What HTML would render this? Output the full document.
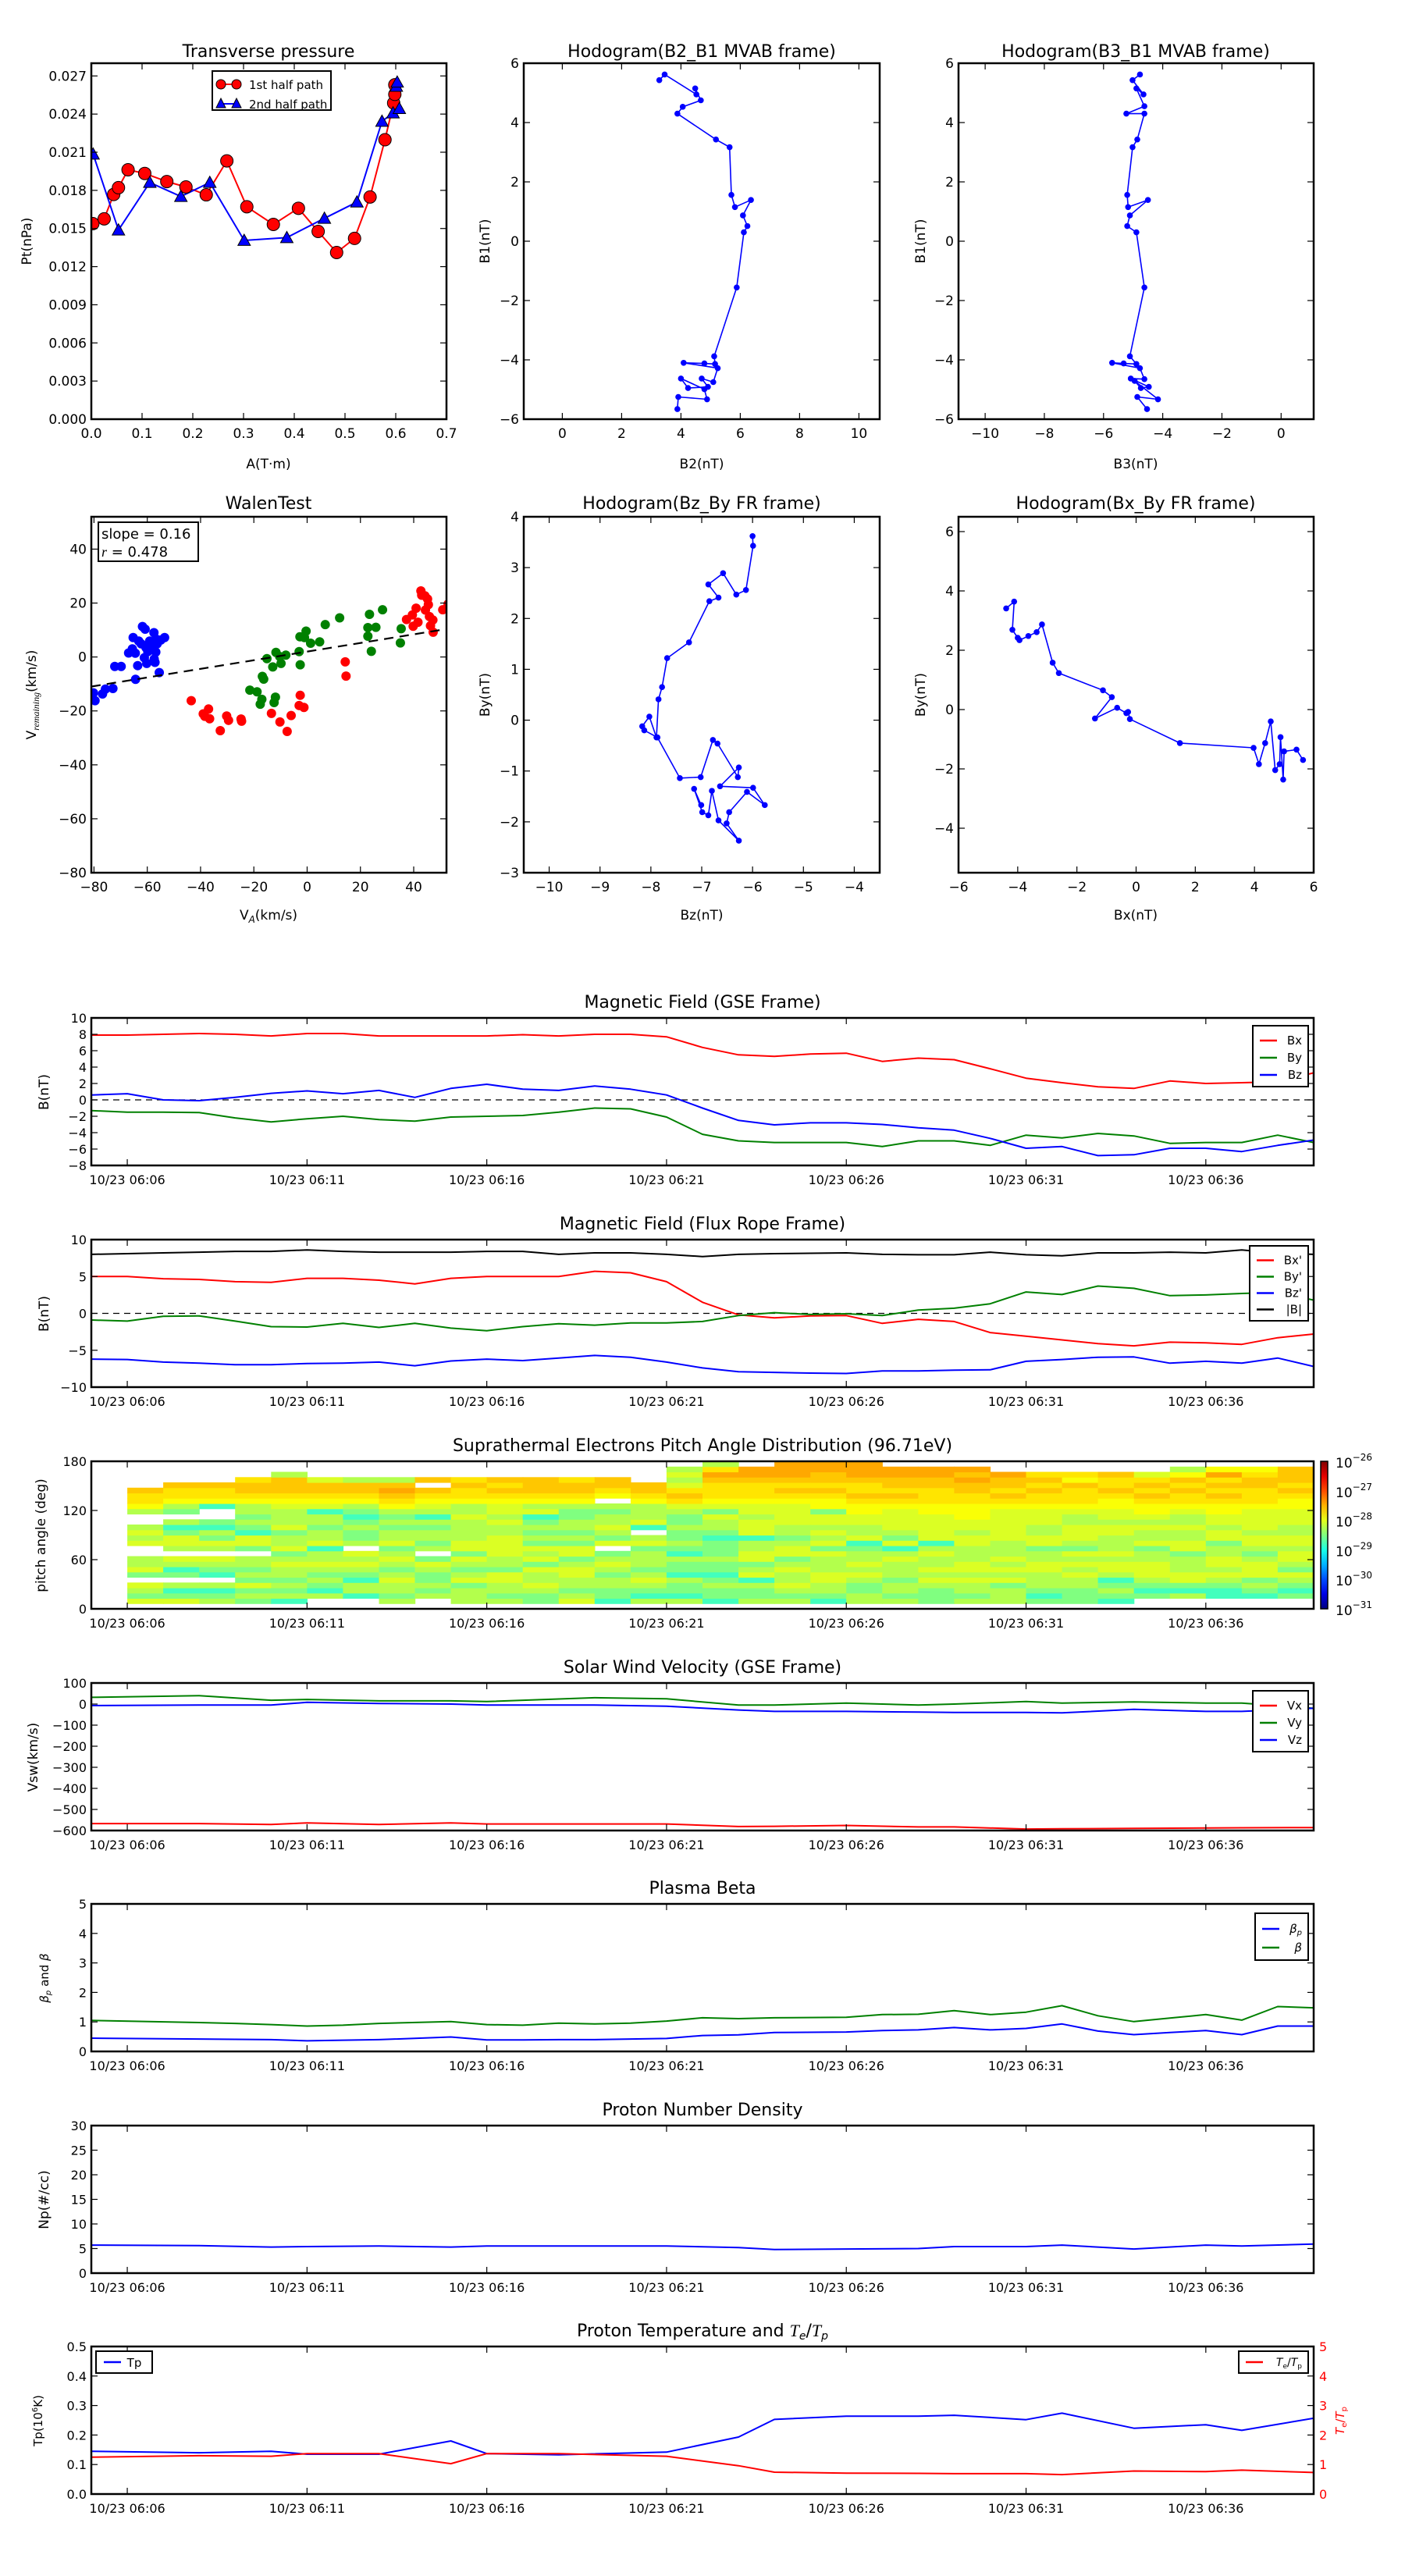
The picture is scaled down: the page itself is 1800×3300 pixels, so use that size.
<!DOCTYPE html>
<html><head><meta charset="utf-8">
<style>body{margin:0;background:#fff}svg{display:block;font-family:"DejaVu Sans","Liberation Sans",sans-serif}</style>
</head><body>
<svg id="fig" width="1800" height="3300" viewBox="0 0 1800 3300" xmlns="http://www.w3.org/2000/svg"></svg>
<script>
// ---------- Transverse pressure ----------
const tp1A=[0.003,0.0253,0.0441,0.0535,0.0724,0.1053,0.1488,0.1865,0.2265,0.2671,0.3065,0.3588,0.4082,0.4471,0.4835,0.5188,0.5494,0.5788,0.5959,0.5982,0.5982];
const tp1P=[0.01538,0.01576,0.01768,0.01821,0.01962,0.01933,0.01869,0.01827,0.01765,0.02032,0.01671,0.01532,0.01659,0.01477,0.01311,0.01422,0.01748,0.02198,0.02487,0.02555,0.0263];
const tp2A=[0.0035,0.0535,0.1153,0.1765,0.2335,0.3012,0.3853,0.4594,0.5235,0.5729,0.5947,0.6012,0.6029,0.6071];
const tp2P=[0.02085,0.01488,0.01862,0.01752,0.01862,0.01406,0.01428,0.0158,0.01708,0.02343,0.02409,0.02618,0.02651,0.02443];
// ---------- Hodogram B2_B1 / B3_B1 ----------
const hB2=[3.27,3.45,4.52,4.48,4.67,4.06,3.88,5.18,5.64,5.70,5.82,6.36,6.09,6.24,6.12,5.88,5.12,5.15,4.79,4.09,5.24,5.09,4.70,4.91,4.24,4.00,4.79,4.88,3.91,3.88];
const hB1=[5.43,5.62,4.95,5.15,4.75,4.53,4.30,3.43,3.17,1.56,1.15,1.39,0.87,0.51,0.30,-1.56,-3.88,-4.14,-4.12,-4.10,-4.28,-4.75,-4.63,-4.91,-4.95,-4.63,-4.99,-5.33,-5.25,-5.66];
const hB3=[-4.77,-5.02,-4.65,-4.89,-4.62,-5.23,-4.62,-4.86,-5.02,-5.20,-5.17,-4.50,-5.11,-5.20,-4.89,-4.62,-5.11,-4.89,-5.32,-5.71,-4.77,-4.62,-5.08,-4.47,-4.74,-4.95,-4.16,-4.86,-4.53];
const hB1b=[5.62,5.43,4.95,5.15,4.55,4.30,4.30,3.43,3.17,1.56,1.15,1.39,0.87,0.51,0.30,-1.56,-3.88,-4.14,-4.12,-4.10,-4.28,-4.65,-4.63,-4.91,-4.95,-4.71,-5.33,-5.25,-5.66];
// ---------- Walen test ----------
const wBlueX=[-80.2,-79.6,-76.8,-75.7,-72.9,-72.2,-69.8,-67.0,-65.6,-65.3,-64.5,-64.4,-63.6,-63.2,-62.3,-61.8,-61.1,-60.8,-60.5,-60.2,-59.8,-59.1,-58.2,-57.5,-57.4,-57.1,-56.8,-56.6,-56.3,-55.5,-54.9,-53.5];
const wBlueY=[-13.3,-16.2,-13.7,-11.9,-11.7,-3.5,-3.5,1.5,3.0,7.2,1.4,-8.3,-3.2,5.9,4.9,11.3,-0.3,10.3,3.5,-2.4,2.0,5.9,4.2,9.0,-0.8,-2.0,1.8,6.6,4.9,-5.8,6.3,7.2];
const wGreenX=[-21.5,-18.8,-17.6,-17.0,-16.8,-16.3,-15.1,-12.9,-12.4,-11.9,-11.7,-10.3,-9.8,-8.0,-3.0,-2.7,-2.6,-1.0,-0.4,1.3,4.7,6.8,12.2,22.8,22.8,23.4,24.1,25.8,28.3,35.0,35.3];
const wGreenY=[-12.3,-12.9,-17.5,-15.7,-7.2,-8.2,-0.6,-3.7,-16.9,-14.9,1.7,0.2,-2.4,0.7,2.0,7.5,-2.9,7.2,9.6,5.1,5.6,12.0,14.5,7.7,10.9,15.8,2.1,11.0,17.5,5.2,10.5];
const wRedX=[-43.5,-39.0,-38.4,-37.0,-36.6,-32.6,-30.2,-29.5,-24.8,-24.6,-13.4,-10.2,-7.5,-6.0,-3.0,-2.6,-1.2,14.3,14.6,37.3,39.5,39.8,40.9,41.6,42.7,43.0,44.2,44.4,45.2,45.5,45.9,46.3,47.2,47.3,50.9,52.9];
const wRedY=[-16.2,-21.1,-22.0,-19.3,-22.9,-27.3,-21.9,-23.5,-23.0,-23.8,-20.9,-24.1,-27.6,-21.7,-18.0,-14.2,-18.7,-1.8,-7.1,13.9,15.6,11.4,18.1,12.9,24.5,22.9,22.7,17.4,21.5,19.4,15.0,11.6,13.7,9.2,17.5,19.6];
const walenSlope=0.16, walenIntercept=2.0;
// ---------- Hodogram FR ----------
const fBz=[-6.00,-5.99,-6.13,-6.32,-6.58,-6.87,-6.67,-6.85,-7.25,-7.68,-7.78,-7.85,-7.89,-8.03,-8.17,-8.13,-7.87,-7.43,-7.02,-6.78,-6.69,-6.29,-6.27,-6.64,-5.99,-5.76,-6.11,-6.46,-6.51,-6.27,-6.67,-6.80,-6.87,-6.99,-7.15,-7.01];
const fBy=[3.62,3.43,2.56,2.47,2.89,2.67,2.41,2.34,1.53,1.22,0.65,0.41,-0.34,0.07,-0.12,-0.20,-0.34,-1.14,-1.12,-0.39,-0.46,-1.12,-0.93,-1.30,-1.33,-1.67,-1.41,-1.81,-2.03,-2.37,-1.97,-1.39,-1.87,-1.81,-1.35,-1.67];
const gBx=[-4.39,-4.12,-4.18,-4.00,-3.94,-3.64,-3.36,-3.18,-2.82,-2.61,-1.12,-0.82,-1.39,-0.64,-0.33,-0.27,-0.21,1.48,3.97,4.15,4.36,4.55,4.70,4.85,4.88,4.97,5.00,5.42,5.64];
const gBy=[3.41,3.64,2.69,2.42,2.34,2.48,2.61,2.87,1.58,1.23,0.65,0.42,-0.30,0.06,-0.12,-0.08,-0.32,-1.13,-1.29,-1.84,-1.13,-0.40,-2.04,-1.84,-0.93,-2.36,-1.41,-1.35,-1.70];
// ---------- Time series (minutes after 06:05) ----------
const timeTickLabels=['10/23 06:06','10/23 06:11','10/23 06:16','10/23 06:21','10/23 06:26','10/23 06:31','10/23 06:36'];
const bT=[0,1,2,3,4,5,6,7,8,9,10,11,12,13,14,15,16,17,18,19,20,21,22,23,24,25,26,27,28,29,30,31,32,33,34];
const gseBx=[7.9,7.9,8.0,8.1,8.0,7.8,8.1,8.1,7.8,7.8,7.8,7.8,7.95,7.8,8.0,8.0,7.7,6.4,5.5,5.3,5.6,5.7,4.7,5.1,4.9,3.8,2.65,2.1,1.6,1.4,2.3,2.0,2.1,2.2,3.3];
const gseBy=[-1.3,-1.5,-1.5,-1.55,-2.2,-2.7,-2.3,-2.0,-2.4,-2.6,-2.1,-2.0,-1.9,-1.5,-1.0,-1.1,-2.1,-4.2,-5.0,-5.2,-5.2,-5.2,-5.7,-5.0,-5.0,-5.55,-4.3,-4.65,-4.1,-4.4,-5.3,-5.2,-5.2,-4.3,-5.2];
const gseBz=[0.6,0.75,0,-0.1,0.3,0.8,1.1,0.75,1.15,0.3,1.4,1.9,1.3,1.15,1.7,1.3,0.6,-1.0,-2.5,-3.05,-2.8,-2.8,-3.0,-3.4,-3.7,-4.7,-5.9,-5.7,-6.8,-6.7,-5.9,-5.9,-6.3,-5.55,-4.9];
const frBx=[5.0,5.0,4.7,4.6,4.3,4.2,4.75,4.75,4.5,4.0,4.75,5.0,5.0,5.0,5.7,5.5,4.3,1.5,-0.2,-0.6,-0.35,-0.3,-1.35,-0.8,-1.1,-2.6,-3.1,-3.6,-4.1,-4.4,-3.9,-4.0,-4.2,-3.3,-2.8];
const frBy=[-0.9,-1.05,-0.4,-0.35,-1.05,-1.8,-1.85,-1.35,-1.9,-1.35,-2.0,-2.35,-1.8,-1.4,-1.6,-1.3,-1.3,-1.1,-0.3,0.1,-0.15,-0.05,-0.3,0.45,0.7,1.3,2.9,2.55,3.7,3.4,2.4,2.5,2.7,2.85,1.8];
const frBz=[-6.2,-6.25,-6.6,-6.75,-6.95,-6.95,-6.8,-6.75,-6.6,-7.1,-6.45,-6.2,-6.4,-6.05,-5.7,-5.95,-6.6,-7.4,-7.9,-8.0,-8.1,-8.15,-7.8,-7.8,-7.7,-7.65,-6.5,-6.25,-5.95,-5.9,-6.75,-6.5,-6.75,-6.05,-7.2];
const frBt=[8.0,8.1,8.2,8.3,8.4,8.4,8.6,8.4,8.3,8.3,8.3,8.4,8.4,8.0,8.2,8.2,8.0,7.7,8.0,8.1,8.15,8.2,8.0,7.95,7.95,8.3,7.95,7.8,8.2,8.2,8.3,8.2,8.6,8.15,8.0];
const padColumns=[
".ygly.gyll..ylyl..lYooO.....",".ygcl.gcly.lyygcl.glYooO....",".lgcl.cgly.lyglcg..cYooO....",".glgyglgll.gyycglgllYoOOo...",
".clglgllylgyllgylllyYoOOOl..","..lcglglyllcyllgllcyYoOOy...","..cllcglyly.lgglgcglYoOOl...",".lgllylglylgyllglglYoOrOl...",
"..lglgglyg.lgllglclyYoO.O...",".lllgylglygyyllllyllYooOo...",".lgllyygllyyyyllylyyYoOoO...",".gglyllygylyglglgcylYoOOO...",
".ylgllyylgyyglgllgglYoOOo...",".cggllglylg.yglyllgl.YoOO...",".lcglylglllgyl.cylllYoOO....",".lcgglcgglcglgglgglyoOoylyl.",
".cgglgcgglgggcgllygyYoooOrol",".lgglcylgyyllcyyylyyYoooOrr.",".lglyllylgyylgllyyyyYoOoOrrr",".cgllyylllygylylyygYYoOoOOrr",
".llgglylyllgcyllyyYYoOooOrrr",".lgllglllylcyglyyyyYoOoOOrr.",".ggglylyllylcyyyyyYYoooOOrr.",".lgllylyylllyylyyYYYooOOrOr.",
".lllgylylylllyyyyyyYoOoOOr..",".gcglllyyllgyyllyyyYooOoOo..",".gggllylylyglyyyllyYoooOYo..",".cglgclyylylllyylyyYYoOooO..",
"..gcglyyyllgyllylyYYoOoOoy..","..lcgyylllgyyllyllyYooOoOYl.","..ccglylyyllgyylyyYYoOoOorY.","..cglgyyylglyylyyyyYoooOOoY.",
"..gcglyglyylyyllyyyYYoOoOOO."];
const padLevelKeys=['c','g','l','y','Y','o','O','r'];
const padLevelLog=[-28.8,-28.5,-28.25,-28.05,-27.9,-27.75,-27.6,-27.45];
const vT=[0,3,5,6,8,10,11,14,16,18,19,21,23,24,26,27,29,31,32,34];
const vX=[-567,-567,-571,-564,-571,-564,-569,-569,-569,-581,-580,-576,-583,-583,-593,-592,-590,-588,-587,-586];
const vY=[32,40,18,22,15,15,12,30,25,-5,-5,5,-5,0,12,5,10,5,5,-20];
const vZ=[-7,-5,-5,8,3,0,-5,-5,-10,-28,-35,-35,-38,-40,-40,-42,-25,-35,-35,-20];
const betaT=[0,3,4,5,6,7,8,10,11,12,13,14,15,16,17,18,19,21,22,23,24,25,26,27,28,29,30,31,32,33,34];
const betaP=[0.45,0.42,0.41,0.40,0.36,0.38,0.40,0.49,0.39,0.39,0.40,0.40,0.42,0.44,0.54,0.56,0.64,0.66,0.71,0.73,0.81,0.73,0.78,0.93,0.69,0.57,0.64,0.71,0.57,0.86,0.86];
const betaAll=[1.05,0.98,0.95,0.91,0.86,0.89,0.95,1.01,0.91,0.89,0.96,0.93,0.96,1.03,1.14,1.11,1.14,1.16,1.25,1.26,1.38,1.25,1.33,1.55,1.21,1.01,1.13,1.25,1.06,1.52,1.48];
const npT=[0,3,5,6,8,10,11,16,18,19,21,23,24,26,27,29,31,32,34];
const npV=[5.7,5.6,5.3,5.4,5.5,5.3,5.5,5.5,5.2,4.8,4.9,5.0,5.4,5.4,5.7,4.9,5.7,5.5,5.9];
const tempT=[0,3,5,6,8,10,11,13,16,18,19,21,23,24,26,27,29,31,32,34];
const tempTp=[0.145,0.14,0.145,0.135,0.135,0.18,0.137,0.133,0.142,0.193,0.253,0.264,0.264,0.267,0.252,0.274,0.223,0.235,0.216,0.257];
const tempRatio=[1.25,1.30,1.28,1.37,1.37,1.03,1.37,1.37,1.28,0.96,0.74,0.71,0.70,0.69,0.69,0.66,0.78,0.76,0.81,0.73];

// ---------- drawing ----------
const NS='http://www.w3.org/2000/svg';
const fig=document.getElementById('fig');
const MINUS='\u2212';
function mk(tag,attrs,parent,name){
  const e=document.createElementNS(NS,tag);
  for(const k in attrs)e.setAttribute(k,attrs[k]);
  
  
  (parent||fig).appendChild(e);return e;
}
function txt(x,y,s,size,anchor,parent,name,extra){
  const a=Object.assign({x:x,y:y,'font-size':size,'text-anchor':anchor||'middle',fill:'#000'},extra||{});
  const t=mk('text',a,parent,name);t.textContent=s;return t;
}
function fmt(v,d){let s=v.toFixed(d);if(v<0)s=MINUS+s.slice(1);return s;}
let clipN=0;
function axes(o){
  const g=mk('g',{},fig,o.name);
  const sx=v=>o.x0+(v-o.xmin)/(o.xmax-o.xmin)*o.w;
  const sy=v=>o.y0+o.h-(v-o.ymin)/(o.ymax-o.ymin)*o.h;
  const id='clip'+(clipN++);
  const cp=mk('clipPath',{id:id},g,'clip-region');
  mk('rect',{x:o.x0,y:o.y0,width:o.w,height:o.h},cp,'clip-rect');
  const data=mk('g',{'clip-path':'url(#'+id+')'},g,'plot-marks');
  return {g:g,data:data,sx:sx,sy:sy,o:o};
}
function finish(a){
  const o=a.o,g=a.g,T=8;
  const tg=mk('g',{stroke:'#000','stroke-width':1.2},g,'ticks');
  o.xticks.forEach((v,i)=>{const x=a.sx(v);
    mk('line',{x1:x,x2:x,y1:o.y0+o.h,y2:o.y0+o.h-T},tg,'x-tick');
    mk('line',{x1:x,x2:x,y1:o.y0,y2:o.y0+T},tg,'x-tick-top');
    txt(x,o.y0+o.h+24,o.xlabels[i],o.tickSize||17,'middle',g,'x-tick-label');});
  o.yticks.forEach((v,i)=>{const y=a.sy(v);
    mk('line',{x1:o.x0,x2:o.x0+T,y1:y,y2:y},tg,'y-tick');
    if(!o.noRightTicks)mk('line',{x1:o.x0+o.w,x2:o.x0+o.w-T,y1:y,y2:y},tg,'y-tick-right');
    txt(o.x0-6,y+6,o.ylabels[i],o.tickSize||17,'end',g,'y-tick-label');});
  mk('rect',{x:o.x0,y:o.y0,width:o.w,height:o.h,fill:'none',stroke:'#000','stroke-width':2.5},g,'axes-frame');
}
function line(a,xs,ys,color,name,w){
  const pts=xs.map((x,i)=>a.sx(x).toFixed(1)+','+a.sy(ys[i]).toFixed(1)).join(' ');
  return mk('polyline',{points:pts,fill:'none',stroke:color,'stroke-width':w||2,'stroke-linejoin':'round'},a.data,name);
}
function dots(a,xs,ys,color,r,name,stroke){
  const g=mk('g',{fill:color,stroke:stroke||'none','stroke-width':1},a.data,name);
  xs.forEach((x,i)=>mk('circle',{cx:a.sx(x),cy:a.sy(ys[i]),r:r},g,'point'));
}
function tris(a,xs,ys,color,s,name){
  const g=mk('g',{fill:color,stroke:'#000','stroke-width':1},a.data,name);
  xs.forEach((x,i)=>{const cx=a.sx(x),cy=a.sy(ys[i]);
    mk('polygon',{points:`${cx},${cy-s} ${cx-s},${cy+s*0.8} ${cx+s},${cy+s*0.8}`},g,'triangle');});
}
function rng(a,b,s){const r=[];for(let v=a;v<=b+1e-9;v+=s)r.push(+v.toFixed(6));return r;}
function ylab(x,y,s,name,size,color){
  const t=txt(x,y,'',size||17,'middle',fig,name,{transform:`rotate(-90 ${x} ${y})`,fill:color||'#000'});
  return t;
}
function tsp(t,s,extra,name){const e=mk('tspan',extra||{},t,name);e.textContent=s;return e;}

// ===== Row 1 =====
const R1={y0:81,h:456}, R2={y0:662,h:456};
const C=[{x0:117,w:455},{x0:671,w:456},{x0:1228,w:455}];

let a=axes({name:'transverse-pressure-panel',x0:C[0].x0,y0:R1.y0,w:C[0].w,h:R1.h,xmin:0,xmax:0.7,ymin:0,ymax:0.028,
 xticks:rng(0,0.7,0.1),xlabels:rng(0,0.7,0.1).map(v=>v.toFixed(1)),yticks:rng(0,0.027,0.003),ylabels:rng(0,0.027,0.003).map(v=>v.toFixed(3))});
line(a,tp1A,tp1P,'#ff0000','first-half-path-line');
line(a,tp2A,tp2P,'#0000ff','second-half-path-line');
dots(a,tp1A,tp1P,'#ff0000',8,'first-half-path-markers','#000');
tris(a,tp2A,tp2P,'#0000ff',8,'second-half-path-markers');
finish(a);
txt(344,73,'Transverse pressure',22,'middle',fig,'transverse-pressure-title');
txt(344,600,'A(T·m)',17,'middle',fig,'transverse-pressure-x-title');
ylab(40,309,'','transverse-pressure-y-title').textContent='Pt(nPa)';
{const lg=mk('g',{},fig,'transverse-pressure-legend');
 mk('rect',{x:272,y:91,width:152,height:50,fill:'#fff',stroke:'#000','stroke-width':2},lg,'legend-box');
 mk('line',{x1:283,x2:303,y1:108,y2:108,stroke:'#ff0000','stroke-width':2},lg,'legend-line');
 mk('circle',{cx:283,cy:108,r:6,fill:'#ff0000',stroke:'#000'},lg,'legend-marker');
 mk('circle',{cx:303,cy:108,r:6,fill:'#ff0000',stroke:'#000'},lg,'legend-marker');
 txt(319,114,'1st half path',15,'start',lg,'legend-entry-first-half');
 mk('line',{x1:283,x2:303,y1:133,y2:133,stroke:'#0000ff','stroke-width':2},lg,'legend-line');
 mk('polygon',{points:'283,126 277,138 289,138',fill:'#0000ff',stroke:'#000'},lg,'legend-marker');
 mk('polygon',{points:'303,126 297,138 309,138',fill:'#0000ff',stroke:'#000'},lg,'legend-marker');
 txt(319,139,'2nd half path',15,'start',lg,'legend-entry-second-half');}

a=axes({name:'hodogram-b2-b1-panel',x0:C[1].x0,y0:R1.y0,w:C[1].w,h:R1.h,xmin:-1.3,xmax:10.7,ymin:-6,ymax:6,
 xticks:rng(0,10,2),xlabels:rng(0,10,2).map(v=>fmt(v,0)),yticks:rng(-6,6,2),ylabels:rng(-6,6,2).map(v=>fmt(v,0))});
line(a,hB2,hB1,'#0000ff','hodogram-b2-b1-line',1.6);dots(a,hB2,hB1,'#0000ff',3.8,'hodogram-b2-b1-points');finish(a);
txt(899,73,'Hodogram(B2_B1 MVAB frame)',22,'middle',fig,'hodogram-b2-b1-title');
txt(899,600,'B2(nT)',17,'middle',fig,'hodogram-b2-b1-x-title');
ylab(627,309,'','hodogram-b2-b1-y-title').textContent='B1(nT)';

a=axes({name:'hodogram-b3-b1-panel',x0:C[2].x0,y0:R1.y0,w:C[2].w,h:R1.h,xmin:-10.9,xmax:1.1,ymin:-6,ymax:6,
 xticks:rng(-10,0,2),xlabels:rng(-10,0,2).map(v=>fmt(v,0)),yticks:rng(-6,6,2),ylabels:rng(-6,6,2).map(v=>fmt(v,0))});
line(a,hB3,hB1b,'#0000ff','hodogram-b3-b1-line',1.6);dots(a,hB3,hB1b,'#0000ff',3.8,'hodogram-b3-b1-points');finish(a);
txt(1455,73,'Hodogram(B3_B1 MVAB frame)',22,'middle',fig,'hodogram-b3-b1-title');
txt(1455,600,'B3(nT)',17,'middle',fig,'hodogram-b3-b1-x-title');
ylab(1185,309,'','hodogram-b3-b1-y-title').textContent='B1(nT)';

// ===== Row 2 =====
a=axes({name:'walen-test-panel',x0:C[0].x0,y0:R2.y0,w:C[0].w,h:R2.h,xmin:-81,xmax:52.3,ymin:-80,ymax:52,
 xticks:rng(-80,40,20),xlabels:rng(-80,40,20).map(v=>fmt(v,0)),yticks:rng(-80,40,20),ylabels:rng(-80,40,20).map(v=>fmt(v,0))});
dots(a,wBlueX,wBlueY,'#0000ff',6,'walen-blue-points');
dots(a,wGreenX,wGreenY,'#008000',6,'walen-green-points');
dots(a,wRedX,wRedY,'#ff0000',6,'walen-red-points');
mk('line',{x1:a.sx(-81),y1:a.sy(walenSlope*-81+walenIntercept),x2:a.sx(52.3),y2:a.sy(walenSlope*52.3+walenIntercept),stroke:'#000','stroke-width':2.2,'stroke-dasharray':'12,8'},a.data,'walen-fit-line');
finish(a);
mk('rect',{x:126,y:669,width:128,height:50,fill:'#fff',stroke:'#000','stroke-width':2},fig,'walen-stats-box');
txt(130,690,'slope = 0.16',18,'start',fig,'walen-slope-text');
{const t=txt(130,713,'',18,'start',fig,'walen-r-text');tsp(t,'r',{'font-style':'italic','font-family':'Liberation Serif, serif'},'r-symbol');tsp(t,' = 0.478',{},'r-value');}
txt(344,652,'WalenTest',22,'middle',fig,'walen-title');
{const t=txt(344,1178,'V',17,'middle',fig,'walen-x-title');tsp(t,'A',{'font-size':12,'font-style':'italic',dy:4},'subscript');tsp(t,'(km/s)',{dy:-4},'unit');}
{const t=ylab(46,890,'','walen-y-title');tsp(t,'V',{},'v');tsp(t,'remaining',{'font-size':12,'font-style':'italic','font-family':'Liberation Serif, serif',dy:4},'subscript');tsp(t,'(km/s)',{dy:-4},'unit');}

a=axes({name:'hodogram-bz-by-panel',x0:C[1].x0,y0:R2.y0,w:C[1].w,h:R2.h,xmin:-10.5,xmax:-3.5,ymin:-3,ymax:4,
 xticks:rng(-10,-4,1),xlabels:rng(-10,-4,1).map(v=>fmt(v,0)),yticks:rng(-3,4,1),ylabels:rng(-3,4,1).map(v=>fmt(v,0))});
line(a,fBz,fBy,'#0000ff','hodogram-bz-by-line',1.6);dots(a,fBz,fBy,'#0000ff',3.8,'hodogram-bz-by-points');finish(a);
txt(899,652,'Hodogram(Bz_By FR frame)',22,'middle',fig,'hodogram-bz-by-title');
txt(899,1178,'Bz(nT)',17,'middle',fig,'hodogram-bz-by-x-title');
ylab(627,890,'','hodogram-bz-by-y-title').textContent='By(nT)';

a=axes({name:'hodogram-bx-by-panel',x0:C[2].x0,y0:R2.y0,w:C[2].w,h:R2.h,xmin:-6,xmax:6,ymin:-5.5,ymax:6.5,
 xticks:rng(-6,6,2),xlabels:rng(-6,6,2).map(v=>fmt(v,0)),yticks:rng(-4,6,2),ylabels:rng(-4,6,2).map(v=>fmt(v,0))});
line(a,gBx,gBy,'#0000ff','hodogram-bx-by-line',1.6);dots(a,gBx,gBy,'#0000ff',3.8,'hodogram-bx-by-points');finish(a);
txt(1455,652,'Hodogram(Bx_By FR frame)',22,'middle',fig,'hodogram-bx-by-title');
txt(1455,1178,'Bx(nT)',17,'middle',fig,'hodogram-bx-by-x-title');
ylab(1185,890,'','hodogram-bx-by-y-title').textContent='By(nT)';

// ===== Time panels =====
const TX0=117,TW=1566,TH=189;
const tops=[1304,1588,1872,2156,2439,2723,3006];
const tTicks=[1,6,11,16,21,26,31];
function tpanel(name,top,ymin,ymax,yt,yl,extra){
  return axes(Object.assign({name:name,x0:TX0,y0:top,w:TW,h:TH,xmin:0,xmax:34,ymin:ymin,ymax:ymax,xticks:tTicks,xlabels:timeTickLabels,yticks:yt,ylabels:yl,tickSize:16},extra||{}));
}
function title(top,s,name){return txt(900,top-13,s,22,'middle',fig,name);}
function legend(name,x,y,w,entries,rowH){
  const g=mk('g',{},fig,name);
  mk('rect',{x:x,y:y,width:w,height:entries.length*rowH+12,fill:'#fff',stroke:'#000','stroke-width':2},g,'legend-box');
  entries.forEach((e,i)=>{const cy=y+8+rowH*(i+0.5);
    mk('line',{x1:x+9,x2:x+31,y1:cy,y2:cy,stroke:e[1],'stroke-width':2.5},g,'legend-line');
    const t=txt(x+w-8,cy+5,'',15,'end',g,'legend-entry');
    if(typeof e[0]==='string')t.textContent=e[0];else e[0](t);});
  return g;
}
function zero(a){mk('line',{x1:a.sx(0),x2:a.sx(34),y1:a.sy(0),y2:a.sy(0),stroke:'#000','stroke-width':1.3,'stroke-dasharray':'8,6'},a.data,'zero-line');}

a=tpanel('magnetic-field-gse-panel',tops[0],-8,10,rng(-8,10,2),rng(-8,10,2).map(v=>fmt(v,0)));
zero(a);
line(a,bT,gseBx,'#ff0000','gse-bx-line');line(a,bT,gseBy,'#008000','gse-by-line');line(a,bT,gseBz,'#0000ff','gse-bz-line');
finish(a);title(tops[0],'Magnetic Field (GSE Frame)','magnetic-field-gse-title');
ylab(62,tops[0]+95,'','gse-y-title').textContent='B(nT)';
legend('gse-legend',1605,tops[0]+10,71,[['Bx','#ff0000'],['By','#008000'],['Bz','#0000ff']],22);

a=tpanel('magnetic-field-fr-panel',tops[1],-10,10,rng(-10,10,5),rng(-10,10,5).map(v=>fmt(v,0)));
zero(a);
line(a,bT,frBt,'#000000','fr-btotal-line');line(a,bT,frBx,'#ff0000','fr-bx-line');line(a,bT,frBy,'#008000','fr-by-line');line(a,bT,frBz,'#0000ff','fr-bz-line');
finish(a);title(tops[1],'Magnetic Field (Flux Rope Frame)','magnetic-field-fr-title');
ylab(62,tops[1]+95,'','fr-y-title').textContent='B(nT)';
legend('fr-legend',1601,tops[1]+8,75,[["Bx'",'#ff0000'],["By'",'#008000'],["Bz'",'#0000ff'],['|B|','#000000']],21);

function jet(t){const c=v=>Math.round(255*Math.max(0,Math.min(1,v)));
  return `rgb(${c(1.5-Math.abs(4*t-3))},${c(1.5-Math.abs(4*t-2))},${c(1.5-Math.abs(4*t-1))})`;}
a=tpanel('pitch-angle-panel',tops[2],0,180,[0,60,120,180],['0','60','120','180']);
{const hg=mk('g',{},a.data,'pitch-angle-heatmap');
 const nb=28,bw=180/nb;
 padColumns.forEach((col,k)=>{
  for(let r=0;r<col.length;r++){const ch=col[r];const li=padLevelKeys.indexOf(ch);if(li<0)continue;
   const lv=padLevelLog[li];const x1=a.sx(k+1),x2=a.sx(k+2),y1=a.sy((r+1)*bw),y2=a.sy(r*bw);
   mk('rect',{x:x1.toFixed(1),y:y1.toFixed(1),width:(x2-x1+0.6).toFixed(1),height:(y2-y1+0.6).toFixed(1),fill:jet((lv+31)/5)},hg,'heatmap-cell');}
 });}
finish(a);title(tops[2],'Suprathermal Electrons Pitch Angle Distribution (96.71eV)','pitch-angle-title');
ylab(58,tops[2]+95,'','pitch-angle-y-title').textContent='pitch angle (deg)';
{const defs=mk('defs',{},fig,'defs');const lgd=mk('linearGradient',{id:'jetgrad',x1:0,y1:1,x2:0,y2:0},defs,'jet-gradient');
 for(let i=0;i<=10;i++)mk('stop',{offset:(i/10),'stop-color':jet(i/10)},lgd,'gradient-stop');
 const cb=mk('g',{},fig,'colorbar');
 mk('rect',{x:1692,y:tops[2],width:9,height:TH,fill:'url(#jetgrad)',stroke:'#000','stroke-width':1.5},cb,'colorbar-bar');
 [-26,-27,-28,-29,-30,-31].forEach((p,i)=>{const y=tops[2]+i*TH/5;
  const t=txt(1711,y+8,'10',17,'start',cb,'colorbar-label');tsp(t,MINUS+String(-p),{'font-size':12,dy:-9},'exponent');});}

a=tpanel('solar-wind-velocity-panel',tops[3],-600,100,rng(-600,100,100),rng(-600,100,100).map(v=>fmt(v,0)));
line(a,vT,vX,'#ff0000','vsw-vx-line');line(a,vT,vY,'#008000','vsw-vy-line');line(a,vT,vZ,'#0000ff','vsw-vz-line');
finish(a);title(tops[3],'Solar Wind Velocity (GSE Frame)','solar-wind-velocity-title');
ylab(48,tops[3]+95,'','vsw-y-title').textContent='Vsw(km/s)';
legend('vsw-legend',1605,tops[3]+10,71,[['Vx','#ff0000'],['Vy','#008000'],['Vz','#0000ff']],22);

a=tpanel('plasma-beta-panel',tops[4],0,5,rng(0,5,1),rng(0,5,1).map(v=>fmt(v,0)));
line(a,betaT,betaP,'#0000ff','beta-p-line');line(a,betaT,betaAll,'#008000','beta-line');
finish(a);title(tops[4],'Plasma Beta','plasma-beta-title');
{const t=ylab(62,tops[4]+95,'','beta-y-title',15);tsp(t,'β',{'font-style':'italic'},'beta');tsp(t,'p',{'font-size':10,'font-style':'italic',dy:3},'sub');tsp(t,' and ',{dy:-3},'and');tsp(t,'β',{'font-style':'italic'},'beta2');}
legend('beta-legend',1608,tops[4]+12,68,[[t=>{tsp(t,'β',{'font-style':'italic'},'b');tsp(t,'p',{'font-size':10,dy:3,'font-style':'italic'},'s');},'#0000ff'],[t=>{tsp(t,'β',{'font-style':'italic'},'b');},'#008000']],24);

a=tpanel('proton-density-panel',tops[5],0,30,rng(0,30,5),rng(0,30,5).map(v=>fmt(v,0)));
line(a,npT,npV,'#0000ff','np-line');
finish(a);title(tops[5],'Proton Number Density','proton-density-title');
ylab(62,tops[5]+95,'','np-y-title').textContent='Np(#/cc)';

a=tpanel('proton-temperature-panel',tops[6],0,0.5,rng(0,0.5,0.1),rng(0,0.5,0.1).map(v=>v.toFixed(1)),{noRightTicks:true});
const aR={sx:a.sx,sy:v=>tops[6]+TH-v/5*TH,data:a.data};
line(a,tempT,tempTp,'#0000ff','tp-line');line(aR,tempT,tempRatio,'#ff0000','te-tp-ratio-line');
finish(a);
{const rg=mk('g',{},fig,'right-axis');
 [0,1,2,3,4,5].forEach(v=>{const y=aR.sy(v);
  mk('line',{x1:TX0+TW,x2:TX0+TW-8,y1:y,y2:y,stroke:'#000','stroke-width':1.2},rg,'right-tick');
  txt(TX0+TW+7,y+6,String(v),16,'start',rg,'right-tick-label',{fill:'#ff0000'});});}
{const t=title(tops[6],'',"proton-temperature-title");tsp(t,'Proton Temperature and ',{},'t1');
 tsp(t,'T',{'font-style':'italic','font-family':'Liberation Serif, serif'},'T');tsp(t,'e',{'font-size':14,dy:4,'font-style':'italic'},'e');
 tsp(t,'/',{dy:-4},'slash');tsp(t,'T',{'font-style':'italic','font-family':'Liberation Serif, serif'},'T2');tsp(t,'p',{'font-size':14,dy:4,'font-style':'italic'},'p');}
{const t=ylab(54,tops[6]+95,'','tp-y-title',15);tsp(t,'Tp(10',{},'a');tsp(t,'6',{'font-size':10,dy:-6},'sup');tsp(t,'K)',{dy:6},'b');}
{const t=ylab(1722,tops[6]+95,'','te-tp-y-title',15,'#ff0000');tsp(t,'T',{'font-style':'italic'},'T');tsp(t,'e',{'font-size':10,dy:3},'e');tsp(t,'/',{dy:-3},'s');tsp(t,'T',{'font-style':'italic'},'T2');tsp(t,'p',{'font-size':10,dy:3},'p');}
{const g=mk('g',{},fig,'tp-legend');
 mk('rect',{x:123,y:3012,width:72,height:28,fill:'#fff',stroke:'#000','stroke-width':2},g,'legend-box');
 mk('line',{x1:133,x2:155,y1:3026,y2:3026,stroke:'#0000ff','stroke-width':2.5},g,'legend-line');
 txt(172,3032,'Tp',15,'middle',g,'legend-entry-tp');}
{const g=mk('g',{},fig,'te-tp-legend');
 mk('rect',{x:1587,y:3012,width:89,height:28,fill:'#fff',stroke:'#000','stroke-width':2},g,'legend-box');
 mk('line',{x1:1596,x2:1618,y1:3026,y2:3026,stroke:'#ff0000','stroke-width':2.5},g,'legend-line');
 const t=txt(1668,3031,'',14,'end',g,'legend-entry-te-tp');tsp(t,'T',{'font-style':'italic'},'T');tsp(t,'e',{'font-size':9,dy:3},'e');tsp(t,'/',{dy:-3},'s');tsp(t,'T',{'font-style':'italic'},'T2');tsp(t,'p',{'font-size':9,dy:3},'p');}
</script>
</body></html>
